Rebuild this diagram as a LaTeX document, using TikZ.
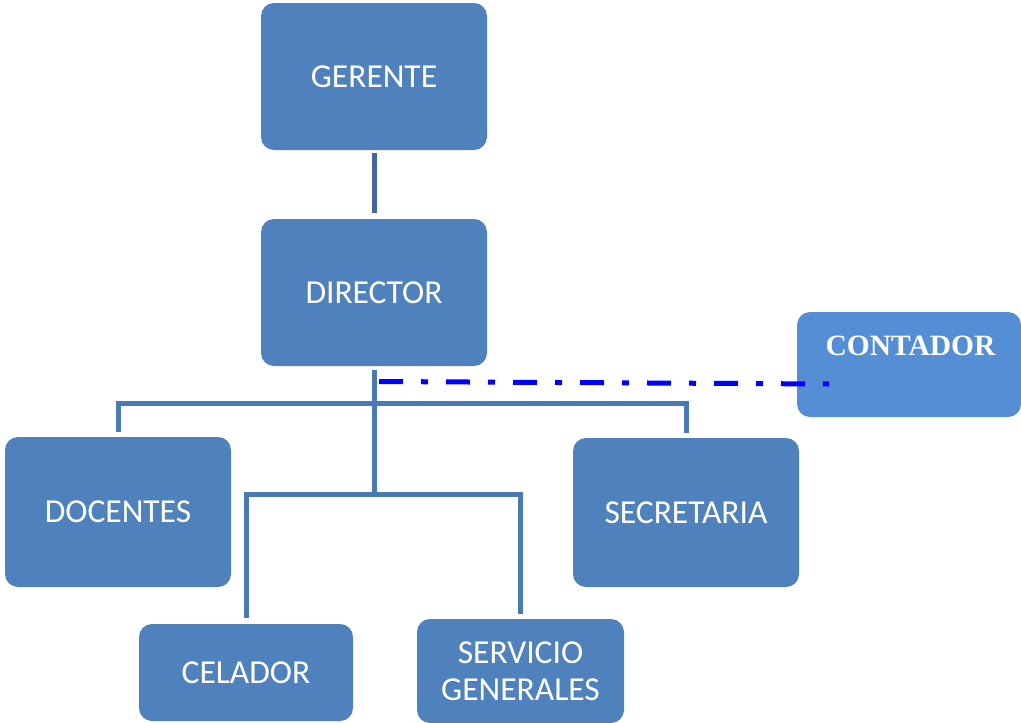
\documentclass[tikz,border=0pt]{standalone}
\usepackage{fontspec}
\setmainfont{Carlito}
\newfontfamily\serifbold{Liberation Serif}
\usetikzlibrary{calc}
\definecolor{boxblue}{RGB}{79,129,189}
\definecolor{conblue}{RGB}{85,142,213}
\definecolor{linkblue}{RGB}{74,122,180}
\definecolor{topline}{RGB}{64,104,154}
\tikzset{
  orgbox/.style={rectangle, rounded corners=13pt, fill=boxblue, text=white,
    inner sep=0pt, align=center, font=\fontsize{33.5}{37}\selectfont},
  conbox/.style={rectangle, rounded corners=13pt, fill=conblue, inner sep=0pt},
  context/.style={text=white, inner sep=0pt, font=\serifbold\bfseries\fontsize{29.5}{32}\selectfont},
  conn/.style={draw=linkblue, line width=5pt},
  topconn/.style={draw=topline, line width=5pt},
  dashdotline/.style={draw=blue, line width=5pt, dash pattern=on 24pt off 18pt on 7pt off 18pt}
}
\begin{document}
\begin{tikzpicture}[x=1pt,y=-1pt]
\useasboundingbox (0,0) rectangle (1021,723);
% boxes
\node[orgbox, minimum width=226pt, minimum height=147pt] (ger) at (374,76.5) {GERENTE};
\node[orgbox, minimum width=226pt, minimum height=147pt] (dir) at (374,292.5) {DIRECTOR};
\node[orgbox, minimum width=226pt, minimum height=150pt] (doc) at (118,512) {DOCENTES};
\node[orgbox, minimum width=226pt, minimum height=149pt] (sec) at (686,512.5) {SECRETARIA};
\node[orgbox, minimum width=214pt, minimum height=97pt] (cel) at (246,672.5) {CELADOR};
\node[orgbox, minimum width=207pt, minimum height=104pt] (ser) at (520.5,671) {SERVICIO\\GENERALES};
\node[conbox, minimum width=224pt, minimum height=105pt] (con) at (909,364.5) {};
\node[context] (conlbl) at (910.5,345.5) {CONTADOR};
% junctions
\coordinate (t0) at (374,370);
\coordinate (j1) at (374,403);
\coordinate (j2) at (374,494);
\coordinate (jb) at (374,497);
\coordinate (dd0) at (379,381.5);
\coordinate (dd1) at (829,384);
% connectors
\draw[topconn, shorten <=3pt, shorten >=6pt] (ger.south) -- (dir.north);
\draw[conn] (t0) -- (jb);
\draw[conn, shorten <=5pt, shorten >=5pt] (doc.north) |- (j1) -| (sec.north);
\draw[conn, shorten <=6pt, shorten >=5pt] (cel.north) |- (j2) -| (ser.north);
\draw[dashdotline] (dd0) -- (dd1);
\end{tikzpicture}
\end{document}
